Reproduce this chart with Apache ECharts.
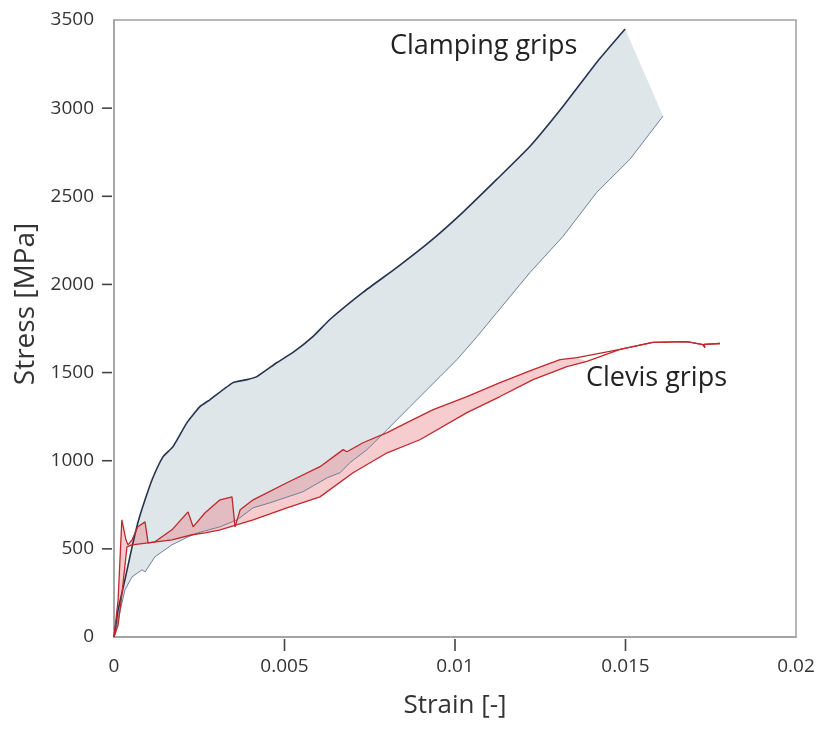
<!DOCTYPE html>
<html>
<head>
<meta charset="utf-8">
<script src="https://cdn.jsdelivr.net/npm/echarts@6/dist/echarts.min.js"></script>
<style>
  html, body { margin: 0; padding: 0; background: #fff; }
  #main { width: 822px; height: 730px; }
</style>
</head>
<body>
<div id="main"></div>
<script>
// strain [-], stress [MPa]
var clampUpper = [
  [0, 0], [0.00012, 153], [0.00032, 324], [0.00053, 511], [0.0007, 648],
  [0.00091, 778], [0.00114, 903], [0.00144, 1023], [0.00173, 1080], [0.00214, 1216],
  [0.00252, 1307], [0.00282, 1347], [0.00349, 1443], [0.0039, 1460], [0.00419, 1477],
  [0.00478, 1557], [0.00525, 1614], [0.00584, 1705], [0.00633, 1801], [0.0073, 1955],
  [0.0083, 2097], [0.00927, 2244], [0.01023, 2409], [0.01123, 2597], [0.0122, 2784],
  [0.01317, 3011], [0.01416, 3261], [0.01499, 3449]
];
var clampLower = [
  [0, 0], [0.00012, 97], [0.00032, 267], [0.00053, 341], [0.00082, 381],
  [0.00091, 369], [0.0012, 455], [0.0017, 523], [0.00217, 568], [0.00246, 591],
  [0.00311, 625], [0.00361, 665], [0.00408, 733], [0.00457, 761], [0.00554, 824],
  [0.00625, 903], [0.00663, 932], [0.00692, 989], [0.00742, 1063], [0.00801, 1176],
  [0.00868, 1307], [0.00956, 1477], [0.01006, 1574], [0.01065, 1705], [0.01123, 1841],
  [0.0122, 2068], [0.01317, 2273], [0.01416, 2523], [0.01513, 2710], [0.0161, 2955]
];
var clevisUpper = [
  [0, 0], [0.00012, 210], [0.00023, 665], [0.00035, 551], [0.00041, 523],
  [0.00053, 551], [0.0007, 625], [0.00091, 653], [0.001, 534], [0.0012, 540],
  [0.0017, 608], [0.00217, 710], [0.00232, 625], [0.00267, 705], [0.00311, 778],
  [0.00346, 795], [0.00355, 625], [0.0037, 722], [0.00408, 778], [0.00507, 875],
  [0.00604, 966], [0.00672, 1063], [0.00683, 1051], [0.0073, 1102], [0.00801, 1159],
  [0.00859, 1216], [0.00936, 1290], [0.01035, 1364], [0.01132, 1443], [0.01229, 1517],
  [0.01308, 1574], [0.01358, 1585]
];
var clevisLower = [
  [0, 0], [0.00012, 68], [0.00023, 239], [0.00038, 511], [0.00053, 523],
  [0.001, 534], [0.0017, 551], [0.00229, 580], [0.00267, 591], [0.00311, 608],
  [0.00408, 665], [0.00507, 733], [0.00604, 795], [0.00701, 932], [0.00801, 1045],
  [0.00897, 1119], [0.01035, 1273], [0.01132, 1364], [0.01229, 1460], [0.01328, 1534],
  [0.01387, 1563]
];
var clevisTail = [
  [0.01484, 1631], [0.0158, 1671], [0.0168, 1676], [0.01727, 1659], [0.01733, 1642],
  [0.0173, 1660], [0.01777, 1665]
];
// tick marks shown in the original (none at the corners)
var xTicks = [0.005, 0.01, 0.015];
var yTicks = [500, 1000, 1500, 2000, 2500, 3000];

var clampPoly = clampUpper.concat(clampLower.slice().reverse());
var clevisPoly = clevisUpper.concat(clevisLower.slice().reverse());

function polySeries(points, fill) {
  return {
    type: 'custom',
    silent: true,
    clip: true,
    data: [[0, 0]],
    renderItem: function (params, api) {
      if (params.dataIndex !== 0) return;
      return {
        type: 'polygon',
        shape: { points: points.map(function (p) { return api.coord(p); }) },
        style: { fill: fill, stroke: null }
      };
    }
  };
}

function lineSeries(points, color, width, smooth) {
  return {
    type: 'line',
    data: points,
    showSymbol: false,
    smooth: smooth || false,
    silent: true,
    lineStyle: { color: color, width: width }
  };
}

// small tick marks outside the axes, placed through the axis scales
function tickSeries(values, isX) {
  return {
    type: 'custom',
    silent: true,
    clip: false,
    z: 5,
    data: values.map(function (v) { return isX ? [v, 0] : [0, v]; }),
    renderItem: function (params, api) {
      var p = api.coord([api.value(0), api.value(1)]);
      var shape = isX
        ? { x1: p[0], y1: p[1] + 2, x2: p[0], y2: p[1] + 14 }
        : { x1: p[0] - 12, y1: p[1], x2: p[0] - 2, y2: p[1] };
      return { type: 'line', shape: shape, style: { stroke: '#444', lineWidth: 1.6 } };
    }
  };
}

var frameColor = '#a0a0a0';
var chart = echarts.init(document.getElementById('main'));
var font = '"Open Sans", "Noto Sans", sans-serif';
chart.setOption({
  animation: false,
  grid: {
    left: 114, right: 26, top: 20, bottom: 93,
    show: true, borderColor: frameColor, borderWidth: 1.5, backgroundColor: 'transparent'
  },
  xAxis: {
    type: 'value', min: 0, max: 0.02, interval: 0.005,
    name: 'Strain [-]', nameLocation: 'middle', nameGap: 56,
    nameTextStyle: { fontFamily: font, fontSize: 26, color: '#333' },
    axisLine: { show: true, lineStyle: { color: frameColor, width: 1.5 } },
    axisTick: { show: false },
    axisLabel: {
      margin: 20, fontFamily: font, fontSize: 19, color: '#333',
      formatter: function (v) { return String(+v.toFixed(3)); }
    },
    splitLine: { show: false }
  },
  yAxis: {
    type: 'value', min: 0, max: 3500, interval: 500,
    axisLine: { show: true, lineStyle: { color: frameColor, width: 1.5 } },
    axisTick: { show: false },
    axisLabel: {
      margin: 20, fontFamily: font, fontSize: 19, color: '#333',
      formatter: function (v) { return String(v); }
    },
    splitLine: { show: false }
  },
  graphic: [
    { type: 'text', x: 26, y: 304, rotation: Math.PI / 2,
      style: { text: 'Stress [MPa]', font: '28px ' + font, fill: '#333', align: 'center', verticalAlign: 'middle' } },
    { type: 'text', left: 390, top: 33, style: { text: 'Clamping grips', font: '27px ' + font, fill: '#222' } },
    { type: 'text', left: 586, top: 365, style: { text: 'Clevis grips', font: '27px ' + font, fill: '#222' } }
  ],
  series: [
    polySeries(clampPoly, '#dfe6e9'),
    polySeries(clevisPoly, 'rgba(232,120,125,0.38)'),
    lineSeries(clampLower, '#6f8098', 1),
    lineSeries(clampUpper, '#26344f', 1.6, 0.15),
    lineSeries(clevisUpper.concat(clevisTail), '#c1272d', 1.3),
    lineSeries(clevisLower.concat(clevisTail), '#c1272d', 1.3),
    tickSeries(xTicks, true),
    tickSeries(yTicks, false)
  ]
});
</script>
</body>
</html>
